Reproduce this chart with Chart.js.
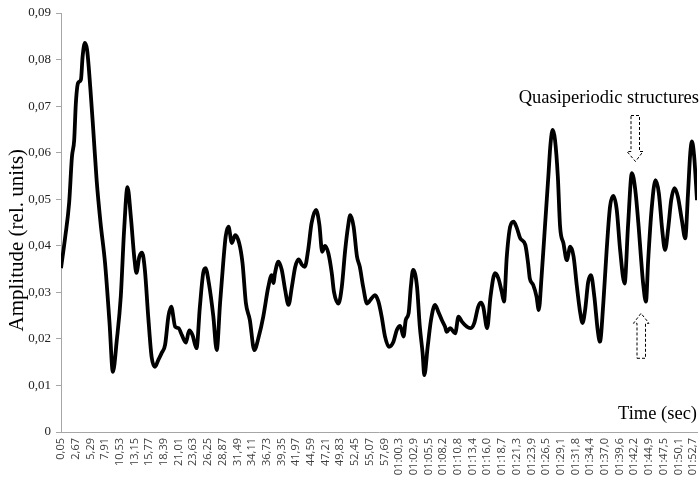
<!DOCTYPE html>
<html>
<head>
<meta charset="utf-8">
<script src="https://cdn.jsdelivr.net/npm/chart.js@4.4.1/dist/chart.umd.min.js"></script>
<style>
  html, body { margin: 0; padding: 0; background: #fff; }
  #wrap { width: 700px; height: 484px; }
</style>
</head>
<body>
<div id="wrap"><canvas id="chart" width="700" height="484"></canvas></div>
<script>
// time in seconds
const times = [0.05, 0.8, 1.5, 2.0, 2.4, 2.7, 3.1, 3.6, 3.9, 4.3, 4.7, 5.3, 5.8, 6.4, 7.1, 7.9, 8.7, 9.3, 10.0, 10.7,
  11.3, 11.9, 12.5, 13.1, 13.5, 14.0, 14.5, 15.0, 15.6, 16.2, 16.8, 17.4, 18.0, 18.6, 19.2, 19.7, 20.4, 21.0, 21.6, 22.3,
  22.9, 23.5, 24.2, 24.8, 25.4, 25.8, 26.4, 27.2, 27.8, 28.4, 29.0, 29.4, 29.9, 30.5, 31.1, 31.8, 32.4, 33.0, 33.7, 34.5,
  35.3, 36.1, 37.0, 37.6, 37.9, 38.2, 38.8, 39.4, 40.0, 40.6, 41.2, 41.8, 42.4, 43.0, 43.5, 44.1, 44.7, 45.5, 46.1, 46.6,
  47.1, 47.7, 48.3, 48.7, 49.5, 50.1, 50.7, 51.2, 51.6, 52.2, 52.8, 53.3, 53.9, 54.6, 55.4, 56.0, 56.6, 57.2, 57.8, 58.5,
  59.3, 59.9, 60.5, 61.1, 61.5, 62.0, 62.4, 62.8, 63.5, 64.0, 64.5, 64.8, 65.4, 66.0, 66.7, 67.3, 67.9, 68.5, 68.8, 69.4,
  70.3, 70.9, 71.5, 72.4, 73.0, 73.7, 74.4, 74.9, 75.3, 76.0, 76.6, 77.4, 78.0, 78.6, 79.0, 79.5, 80.1, 80.7, 81.3, 81.9,
  82.8, 83.3, 83.6, 84.2, 84.8, 85.2, 85.7, 86.3, 86.9, 87.3, 87.7, 88.1, 88.6, 89.0, 89.6, 90.2, 90.8, 91.4, 92.0, 92.6,
  93.0, 93.5, 94.0, 94.5, 95.1, 95.7, 96.1, 96.7, 97.3, 97.9, 98.5, 99.1, 99.7, 100.5, 101.1, 101.8, 102.4, 103.0, 103.4, 103.8,
  104.3, 104.7, 105.3, 106.0, 106.6, 107.2, 107.7, 108.3, 108.8, 109.4, 110.0, 110.7, 111.3, 111.8, 112.2, 112.5, 112.9, 113.4];

// amplitude (rel. units)
const amplitude = [0.0352, 0.0419, 0.0492, 0.0591, 0.0627, 0.0707, 0.0750, 0.0757, 0.0806, 0.0836, 0.0821, 0.0735, 0.0649, 0.0541, 0.0449, 0.0363, 0.0234, 0.0129, 0.0198, 0.0290,
  0.0434, 0.0526, 0.0462, 0.0376, 0.0342, 0.0376, 0.0385, 0.0348, 0.0247, 0.0161, 0.0140, 0.0155, 0.0170, 0.0187, 0.0249, 0.0269, 0.0226, 0.0223, 0.0208, 0.0192,
  0.0218, 0.0208, 0.0180, 0.0269, 0.0342, 0.0352, 0.0320, 0.0248, 0.0176, 0.0277, 0.0369, 0.0420, 0.0441, 0.0406, 0.0423, 0.0406, 0.0363, 0.0277, 0.0241, 0.0176,
  0.0205, 0.0248, 0.0312, 0.0337, 0.0320, 0.0342, 0.0366, 0.0348, 0.0305, 0.0273, 0.0312, 0.0355, 0.0371, 0.0359, 0.0355, 0.0391, 0.0448, 0.0477, 0.0445, 0.0387,
  0.0400, 0.0384, 0.0342, 0.0301, 0.0276, 0.0312, 0.0391, 0.0441, 0.0466, 0.0441, 0.0377, 0.0355, 0.0312, 0.0276, 0.0287, 0.0294, 0.0281, 0.0248, 0.0205, 0.0183,
  0.0194, 0.0219, 0.0228, 0.0205, 0.0241, 0.0255, 0.0312, 0.0348, 0.0312, 0.0226, 0.0169, 0.0122, 0.0183, 0.0241, 0.0273, 0.0258, 0.0241, 0.0226, 0.0215, 0.0223,
  0.0212, 0.0248, 0.0237, 0.0226, 0.0223, 0.0234, 0.0269, 0.0278, 0.0269, 0.0223, 0.0291, 0.0341, 0.0330, 0.0301, 0.0280, 0.0377, 0.0441, 0.0452, 0.0438, 0.0416,
  0.0402, 0.0362, 0.0330, 0.0316, 0.0291, 0.0262, 0.0334, 0.0441, 0.0548, 0.0620, 0.0649, 0.0627, 0.0548, 0.0441, 0.0405, 0.0369, 0.0398, 0.0377, 0.0312, 0.0255,
  0.0234, 0.0266, 0.0322, 0.0337, 0.0291, 0.0219, 0.0194, 0.0276, 0.0391, 0.0484, 0.0507, 0.0477, 0.0391, 0.0319, 0.0441, 0.0556, 0.0520, 0.0441, 0.0377, 0.0319,
  0.0280, 0.0369, 0.0477, 0.0541, 0.0513, 0.0434, 0.0391, 0.0441, 0.0498, 0.0524, 0.0505, 0.0455, 0.0416, 0.0513, 0.0599, 0.0624, 0.0591, 0.0498];

// x axis tick labels and where they sit (seconds)
const tickLabels = ['0,05', '2,67', '5,29', '7,91', '10,53', '13,15', '15,77', '18,39', '21,01', '23,63', '26,25',
  '28,87', '31,49', '34,11', '36,73', '39,35', '41,97', '44,59', '47,21', '49,83', '52,45', '55,07', '57,69',
  '01:00,3', '01:02,9', '01:05,5', '01:08,2', '01:10,8', '01:13,4', '01:16,0', '01:18,7', '01:21,3', '01:23,9',
  '01:26,5', '01:29,1', '01:31,8', '01:34,4', '01:37,0', '01:39,6', '01:42,2', '01:44,9', '01:47,5', '01:50,1', '01:52,7'];
const tickTimes = [0.05, 2.67, 5.29, 7.91, 10.53, 13.15, 15.77, 18.39, 21.01, 23.63, 26.25,
  28.87, 31.49, 34.11, 36.73, 39.35, 41.97, 44.59, 47.21, 49.83, 52.45, 55.07, 57.69,
  60.31, 62.93, 65.55, 68.17, 70.79, 73.41, 76.03, 78.65, 81.27, 83.89,
  86.51, 89.13, 91.75, 94.37, 96.99, 99.61, 102.23, 104.85, 107.47, 110.09, 112.71];

const axisGray = '#a6a6a6';

// text + dashed arrows drawn over the plot
const annotations = {
  id: 'annotations',
  afterDraw(chart) {
    const ctx = chart.ctx;
    const x = chart.scales.x, y = chart.scales.y;
    const area = chart.chartArea;
    ctx.save();
    ctx.fillStyle = '#000';

    // y axis title
    ctx.save();
    ctx.translate(17, y.getPixelForValue(0.0412));
    ctx.rotate(-Math.PI / 2);
    ctx.font = '21px "Liberation Serif"';
    ctx.textAlign = 'center';
    ctx.textBaseline = 'middle';
    ctx.fillText('Amplitude (rel. units)', 0, 0);
    ctx.restore();

    ctx.font = '18.5px "Liberation Serif"';
    ctx.textAlign = 'right';
    ctx.textBaseline = 'alphabetic';
    ctx.fillText('Time (sec)', area.right, y.getPixelForValue(0.0028));
    ctx.fillText('Quasiperiodic structures', area.right + 2, y.getPixelForValue(0.0707));

    ctx.strokeStyle = '#000';
    ctx.lineWidth = 1;
    ctx.setLineDash([3, 2]);

    // down arrow
    let tx = x.getPixelForValue(102.44), ty = y.getPixelForValue(0.0581);
    ctx.beginPath();
    ctx.moveTo(tx - 4.5, ty - 46);
    ctx.lineTo(tx + 4, ty - 46);
    ctx.lineTo(tx + 4, ty - 10);
    ctx.lineTo(tx + 7.5, ty - 10);
    ctx.lineTo(tx, ty);
    ctx.lineTo(tx - 8.5, ty - 10);
    ctx.lineTo(tx - 4.5, ty - 10);
    ctx.closePath();
    ctx.stroke();

    // up arrow
    tx = x.getPixelForValue(103.42); ty = y.getPixelForValue(0.0255);
    ctx.beginPath();
    ctx.moveTo(tx - 4, ty + 45);
    ctx.lineTo(tx + 4.5, ty + 45);
    ctx.lineTo(tx + 4.5, ty + 10);
    ctx.lineTo(tx + 8, ty + 10);
    ctx.lineTo(tx, ty);
    ctx.lineTo(tx - 7.5, ty + 10);
    ctx.lineTo(tx - 4, ty + 10);
    ctx.closePath();
    ctx.stroke();

    ctx.restore();
  }
};

const points = times.map((t, i) => ({ x: t, y: amplitude[i] }));

new Chart(document.getElementById('chart'), {
  type: 'line',
  data: {
    datasets: [{
      data: points,
      borderColor: '#000',
      borderWidth: 3.8,
      pointRadius: 0,
      fill: false,
      cubicInterpolationMode: 'monotone'
    }]
  },
  options: {
    responsive: false,
    animation: false,
    devicePixelRatio: 1,
    layout: { padding: { top: 13, right: 3, left: 0, bottom: 0 } },
    plugins: { legend: { display: false }, tooltip: { enabled: false } },
    scales: {
      x: {
        type: 'linear',
        min: 0.05,
        max: 113.4,
        grid: { display: false, drawTicks: false },
        border: { display: true, color: axisGray, width: 1 },
        afterBuildTicks: scale => { scale.ticks = tickTimes.map(v => ({ value: v })); },
        afterFit: scale => { scale.height = 52; scale.paddingLeft = 0; scale.paddingRight = 0; },
        ticks: {
          autoSkip: false,
          minRotation: 90,
          maxRotation: 90,
          padding: 6,
          color: '#404040',
          font: { family: 'Open Sans', size: 11 },
          callback: (value, index) => tickLabels[index]
        }
      },
      y: {
        min: 0,
        max: 0.09,
        grid: { drawOnChartArea: false, drawTicks: true, tickLength: 5, color: axisGray },
        border: { display: true, color: axisGray, width: 1 },
        afterFit: scale => { scale.width = 61; scale.paddingTop = 0; scale.paddingBottom = 0; },
        ticks: {
          stepSize: 0.01,
          padding: 5,
          color: '#222',
          font: { family: 'Liberation Serif', size: 13 },
          callback: v => v === 0 ? '0' : v.toFixed(2).replace('.', ',')
        }
      }
    }
  },
  plugins: [annotations]
});
</script>
</body>
</html>
